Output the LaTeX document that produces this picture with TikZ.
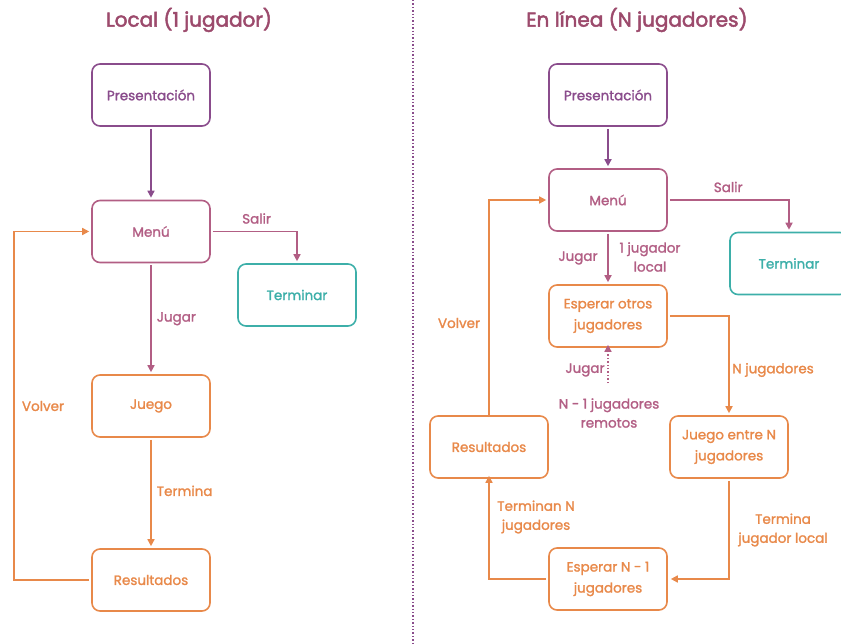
\documentclass[tikz,border=0pt]{standalone}
\usepackage{fontspec}
\setmainfont{Poppins}[UprightFeatures={FakeBold=1.6}]
\newfontfamily\headfont{Poppins}[UprightFeatures={FakeBold=2.4}]
\usetikzlibrary{arrows.meta}
\definecolor{titlec}{HTML}{9C4A6C}
\definecolor{presc}{HTML}{8A4C8C}
\definecolor{menuc}{HTML}{B25E84}
\definecolor{orangec}{HTML}{E8894A}
\definecolor{tealc}{HTML}{3DAFA9}
\tikzset{
  x=1pt, y=-1pt,
  box/.style={draw, line width=1.6pt, rounded corners=8pt, minimum width=118pt,
    minimum height=62pt, align=center, inner sep=2pt,
    font=\fontsize{13.5}{21}\selectfont},
  lbl/.style={align=center, inner sep=1pt, font=\fontsize{13.5}{19}\selectfont},
  title/.style={text=titlec, font=\headfont\fontsize{20}{24}\selectfont},
  conn/.style={line width=1.6pt, -{Triangle[length=7pt,width=7pt]}},
}
\begin{document}
\begin{tikzpicture}
\useasboundingbox (0,0) rectangle (841,644);
\clip (0,0) rectangle (841,644);

% divider between the two modes
\coordinate (dtop) at (413,0);
\coordinate (dbot) at (413,644);
\draw[presc, line width=1.4pt, dotted] (dtop) -- (dbot);

% ---------- local mode ----------
\node[title] (tl) at (189,20) {Local (1 jugador)};
\node[box, presc, text=presc] (lpres) at (151,95) {Presentación};
\node[box, menuc, text=menuc] (lmenu) at (151,231.5) {Menú};
\node[box, tealc, text=tealc] (lterm) at (297,295) {Terminar};
\node[box, orangec, text=orangec] (ljuego) at (151,406) {Juego};
\node[box, orangec, text=orangec] (lres) at (151,580) {Resultados};

\draw[conn, presc] ([yshift=-2pt]lpres.south) -- ([yshift=2pt]lmenu.north);
\draw[conn, menuc] ([xshift=2pt]lmenu.east) -| ([yshift=2pt]lterm.north)
  node[pos=0.26, above=6pt, lbl, text=menuc] (lsalir) {Salir};
\draw[conn, menuc] ([yshift=-2pt]lmenu.south) -- ([yshift=2pt]ljuego.north)
  node[midway, right=4pt, lbl, text=menuc] (ljugar) {Jugar};
\draw[conn, orangec] ([yshift=-2pt]ljuego.south) -- ([yshift=2pt]lres.north)
  node[pos=0.48, right=4pt, lbl, text=orangec] (ltermina) {Termina};
\coordinate (lback) at (14,580);
\draw[conn, orangec] ([xshift=-2pt]lres.west) -- (lback) |- ([xshift=-2pt]lmenu.west);
\node[lbl, text=orangec] (lvolver) at (43,406) {Volver};

% ---------- online mode ----------
\node[title] (tr) at (637,20) {En línea (N jugadores)};
\node[box, presc, text=presc] (rpres) at (608,95) {Presentación};
\node[box, menuc, text=menuc] (rmenu) at (608,200) {Menú};
\node[box, tealc, text=tealc] (rterm) at (789,263.5) {Terminar};
\node[box, orangec, text=orangec] (resp) at (608,316) {Esperar otros\\jugadores};
\node[box, orangec, text=orangec] (rres) at (489,447) {Resultados};
\node[box, orangec, text=orangec] (rjuego) at (729,447) {Juego entre N\\jugadores};
\node[box, orangec, text=orangec] (respn) at (608,579) {Esperar N - 1\\jugadores};

\draw[conn, presc] ([yshift=-2pt]rpres.south) -- ([yshift=2pt]rmenu.north);
\draw[conn, menuc] ([xshift=2pt]rmenu.east) -| ([yshift=2pt]rterm.north)
  node[pos=0.245, above=6pt, lbl, text=menuc] (rsalir) {Salir};
\draw[conn, menuc] ([yshift=-2pt]rmenu.south) -- ([yshift=2pt]resp.north);
\node[lbl, text=menuc] (rjugar) at (578,258) {Jugar};
\node[lbl, text=menuc] (rlocal) at (650,257) {1 jugador\\local};

\coordinate (remote) at (608,383);
\draw[menuc, line width=1.4pt, dotted, -{Triangle[length=7pt,width=7pt]}]
  (remote) -- ([yshift=3pt]resp.south);
\node[lbl, text=menuc] (rjugar2) at (585,370) {Jugar};
\node[lbl, text=menuc] (rremote) at (609,413) {N - 1 jugadores\\remotos};

\draw[conn, orangec] ([xshift=2pt]resp.east) -| ([yshift=2pt]rjuego.north);
\node[lbl, text=orangec] (rnj) at (773,370) {N jugadores};
\draw[conn, orangec] ([yshift=-2pt]rjuego.south) |- ([xshift=3pt]respn.east);
\node[lbl, text=orangec] (rtl) at (783,530) {Termina\\jugador local};
\draw[conn, orangec] ([xshift=-2pt]respn.west) -| ([yshift=3pt]rres.south);
\node[lbl, text=orangec] (rtn) at (536,517) {Terminan N\\jugadores};
\draw[conn, orangec] ([yshift=-2pt]rres.north) |- ([xshift=-2pt]rmenu.west);
\node[lbl, text=orangec] (rvolver) at (459,323) {Volver};
\end{tikzpicture}
\end{document}
